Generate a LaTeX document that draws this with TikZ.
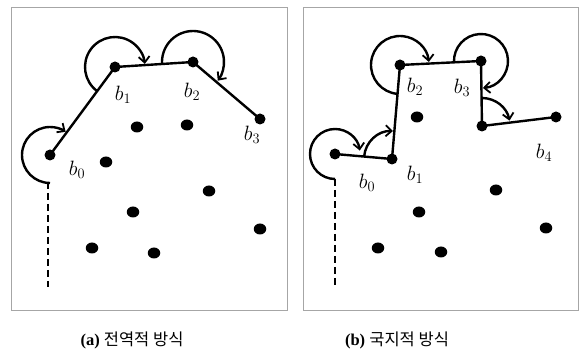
\documentclass[tikz,border=0pt]{standalone}
\usepackage{fontspec}
\setmainfont{Liberation Serif}
\newfontfamily\kr{Noto Sans CJK KR}
\usetikzlibrary{arrows.meta,shapes.geometric}
\begin{document}
\begin{tikzpicture}[x=1pt,y=1pt,
  vtx/.style={circle,fill=black,inner sep=0pt,minimum size=11pt},
  dot/.style={ellipse,fill=black,inner sep=0pt,minimum width=12.5pt,minimum height=11pt},
  hull/.style={line width=2.4pt},
  turn/.style={line width=2.4pt,-{Straight Barb[length=6pt,width=11pt,line width=1.8pt]}},
  ref/.style={line width=2.4pt,dash pattern=on 7pt off 4pt},
  frame/.style={draw=black!35,line width=0.8pt},
  lbl/.style={inner sep=0pt,font=\fontsize{21}{21}\selectfont},
  captxt/.style={inner sep=0pt,font=\fontsize{16.5}{16.5}\selectfont}]
\useasboundingbox (0,0) rectangle (582,351);
% ---------- panel (a)
\draw[frame] (11,41) rectangle (287,344);
\node[vtx] (a0) at (50,196) {};
\node[vtx] (a1) at (115,284) {};
\node[vtx] (a2) at (193,289) {};
\node[vtx] (a3) at (260,232) {};
\foreach \p/\q [count=\i] in {137/224,187/226,106/189,209/160,133/139,260/122,92/103,154/98}
  \node[dot] (ad\i) at (\p,\q) {};
\draw[hull] (a0.center) -- (a1.center) -- (a2.center) -- (a3.center);
\coordinate (as) at (48,169);
\coordinate (ae) at (48,64);
\draw[ref] (as) -- (ae);
\draw[turn] (a0.center) ++(270:28pt) arc[start angle=270,end angle=56,radius=28pt];
\draw[turn] (a1.center) ++(234:30pt) arc[start angle=234,end angle=6,radius=30pt];
\draw[turn] (a2.center) ++(184:31pt) arc[start angle=184,end angle=-37,radius=31pt];
\node[lbl] (la0) at (77,181) {$b_0$};
\node[lbl] (la1) at (123,256) {$b_1$};
\node[lbl] (la2) at (192,259) {$b_2$};
\node[lbl] (la3) at (252,216) {$b_3$};
\node[captxt] (capa) at (132,11) {\textbf{(a)} {\kr 전역적 방식}};
% ---------- panel (b)
\draw[frame] (303,41) rectangle (578,344);
\node[vtx] (b0) at (335,197) {};
\node[vtx] (b1) at (392,192) {};
\node[vtx] (b2) at (400,286) {};
\node[vtx] (b3) at (481,290) {};
\node[vtx] (b4) at (482,225) {};
\node[vtx] (b5) at (556,234) {};
\foreach \p/\q [count=\i] in {417/234,496/161,419/139,546/123,378/103,441/99}
  \node[dot] (bd\i) at (\p,\q) {};
\draw[hull] (b0.center) -- (b1.center) -- (b2.center) -- (b3.center) -- (b4.center) -- (b5.center);
\coordinate (bs) at (335,172);
\coordinate (be) at (335,66);
\draw[ref] (bs) -- (be);
\draw[turn] (b0.center) ++(270:25pt) arc[start angle=270,end angle=8,radius=25pt];
\draw[turn] (b1.center) ++(175:28pt) arc[start angle=175,end angle=88,radius=28pt];
\draw[turn] (b2.center) ++(265:29pt) arc[start angle=265,end angle=6,radius=29pt];
\draw[turn] (b3.center) ++(183:27pt) arc[start angle=183,end angle=-86,radius=27pt];
\draw[turn] (b4.center) ++(89:28pt) arc[start angle=89,end angle=11,radius=28pt];
\node[lbl] (lb0) at (367,168) {$b_0$};
\node[lbl] (lb1) at (415,176) {$b_1$};
\node[lbl] (lb2) at (415,264) {$b_2$};
\node[lbl] (lb3) at (462,263) {$b_3$};
\node[lbl] (lb4) at (544,198) {$b_4$};
\node[captxt] (capb) at (397,11) {\textbf{(b)} {\kr 국지적 방식}};
\end{tikzpicture}
\end{document}
